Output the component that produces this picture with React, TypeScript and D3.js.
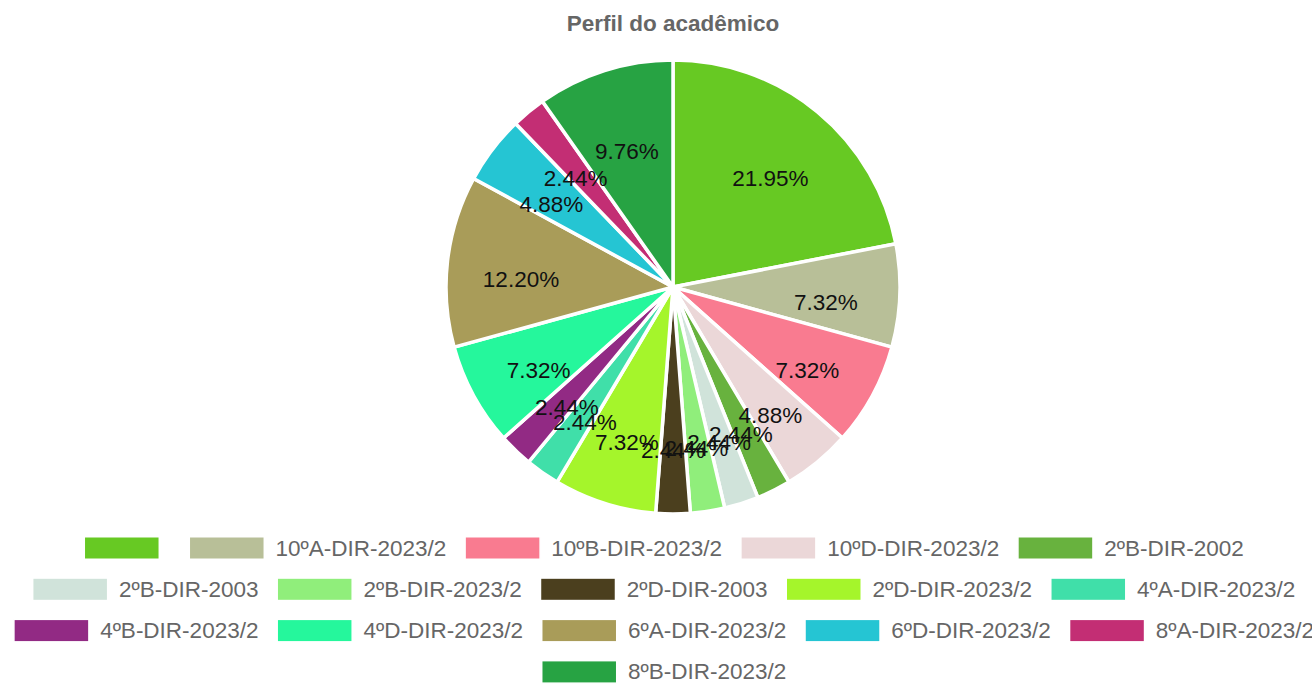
import React, { useMemo } from "react";
import * as d3 from "d3";

const TITLE = "Perfil do acadêmico";
const categories = [
  "",
  "10ºA-DIR-2023/2",
  "10ºB-DIR-2023/2",
  "10ºD-DIR-2023/2",
  "2ºB-DIR-2002",
  "2ºB-DIR-2003",
  "2ºB-DIR-2023/2",
  "2ºD-DIR-2003",
  "2ºD-DIR-2023/2",
  "4ºA-DIR-2023/2",
  "4ºB-DIR-2023/2",
  "4ºD-DIR-2023/2",
  "6ºA-DIR-2023/2",
  "6ºD-DIR-2023/2",
  "8ºA-DIR-2023/2",
  "8ºB-DIR-2023/2",
];
const values = [9, 3, 3, 2, 1, 1, 1, 1, 3, 1, 1, 3, 5, 2, 1, 4];
const colors = [
  "#67c923",
  "#b8bf98",
  "#f97b90",
  "#ebd7d8",
  "#68b23e",
  "#d0e3da",
  "#90ee7b",
  "#4b3f1e",
  "#a5f52b",
  "#40dfa9",
  "#922a84",
  "#25f79c",
  "#a99c59",
  "#25c5d3",
  "#c32e74",
  "#27a343",
];

const W = 1312;
const H = 684;
const CX = 673;
const CY = 287;
const R = 227;
const LABEL_R = 153;
const FS = 22.5;
const FONT = "'Liberation Sans', Arial, Helvetica, sans-serif";
const BOX_W = 75;
const PAD = 18.75;
const LEGEND_CX = 664;
const LEGEND_TOP_ROW_Y = 548;
const ROW_H = 41.3;
const LEGEND_MAX_W = 1340;

function measure(text: string): number {
  const c = document.createElement("canvas");
  const ctx = c.getContext("2d")!;
  ctx.font = `${FS}px ${FONT}`;
  return ctx.measureText(text).width;
}

export default function App() {
  const total = d3.sum(values);
  const arcs = useMemo(
    () =>
      d3
        .pie<number>()
        .sort(null)
        .startAngle(0)
        .endAngle(2 * Math.PI)(values),
    []
  );
  const arcGen = d3.arc<d3.PieArcDatum<number>>().innerRadius(0).outerRadius(R);

  const legendRows = useMemo(() => {
    const items = categories.map((c, i) => ({
      label: c,
      color: colors[i],
      width: BOX_W + FS / 2 + measure(c),
    }));
    const rows: { items: typeof items; lineWidth: number }[] = [];
    items.forEach((it, i) => {
      const last = rows[rows.length - 1];
      if (i === 0 || last.lineWidth + it.width + 2 * PAD > LEGEND_MAX_W) {
        rows.push({ items: [], lineWidth: 0 });
      }
      const cur = rows[rows.length - 1];
      cur.items.push(it);
      cur.lineWidth += it.width + PAD;
    });
    return rows;
  }, []);

  return (
    <svg
      width={W}
      height={H}
      style={{ position: "absolute", left: 0, top: 0, background: "#fff" }}
      fontFamily={FONT}
    >
      <text
        x={CX}
        y={23}
        textAnchor="middle"
        dominantBaseline="central"
        fontSize={FS}
        fontWeight="bold"
        fill="#666"
      >
        {TITLE}
      </text>
      <g transform={`translate(${CX},${CY})`}>
        {arcs.map((a, i) => (
          <path key={i} d={arcGen(a) || ""} fill={colors[i]} stroke="#fff" strokeWidth={3.5} />
        ))}
        {arcs.map((a, i) => {
          const mid = (a.startAngle + a.endAngle) / 2;
          const x = LABEL_R * Math.sin(mid);
          const y = -LABEL_R * Math.cos(mid) + 10;
          return (
            <text
              key={i}
              x={x}
              y={y}
              textAnchor="middle"
              dominantBaseline="central"
              fontSize={FS}
              fill="#111"
            >
              {((values[i] / total) * 100).toFixed(2) + "%"}
            </text>
          );
        })}
      </g>
      <g>
        {legendRows.map((row, ri) => {
          const y = LEGEND_TOP_ROW_Y + ri * ROW_H;
          let x = LEGEND_CX - (row.lineWidth - PAD) / 2;
          return row.items.map((it, k) => {
            const x0 = x;
            x += it.width + PAD;
            return (
              <g key={`${ri}-${k}`}>
                <rect
                  x={x0}
                  y={y - FS / 2}
                  width={BOX_W}
                  height={FS}
                  fill={it.color}
                  stroke="#fff"
                  strokeWidth={1.5}
                />
                <text
                  x={x0 + BOX_W + FS / 2}
                  y={y}
                  dominantBaseline="central"
                  fontSize={FS}
                  fill="#666"
                >
                  {it.label}
                </text>
              </g>
            );
          });
        })}
      </g>
    </svg>
  );
}
